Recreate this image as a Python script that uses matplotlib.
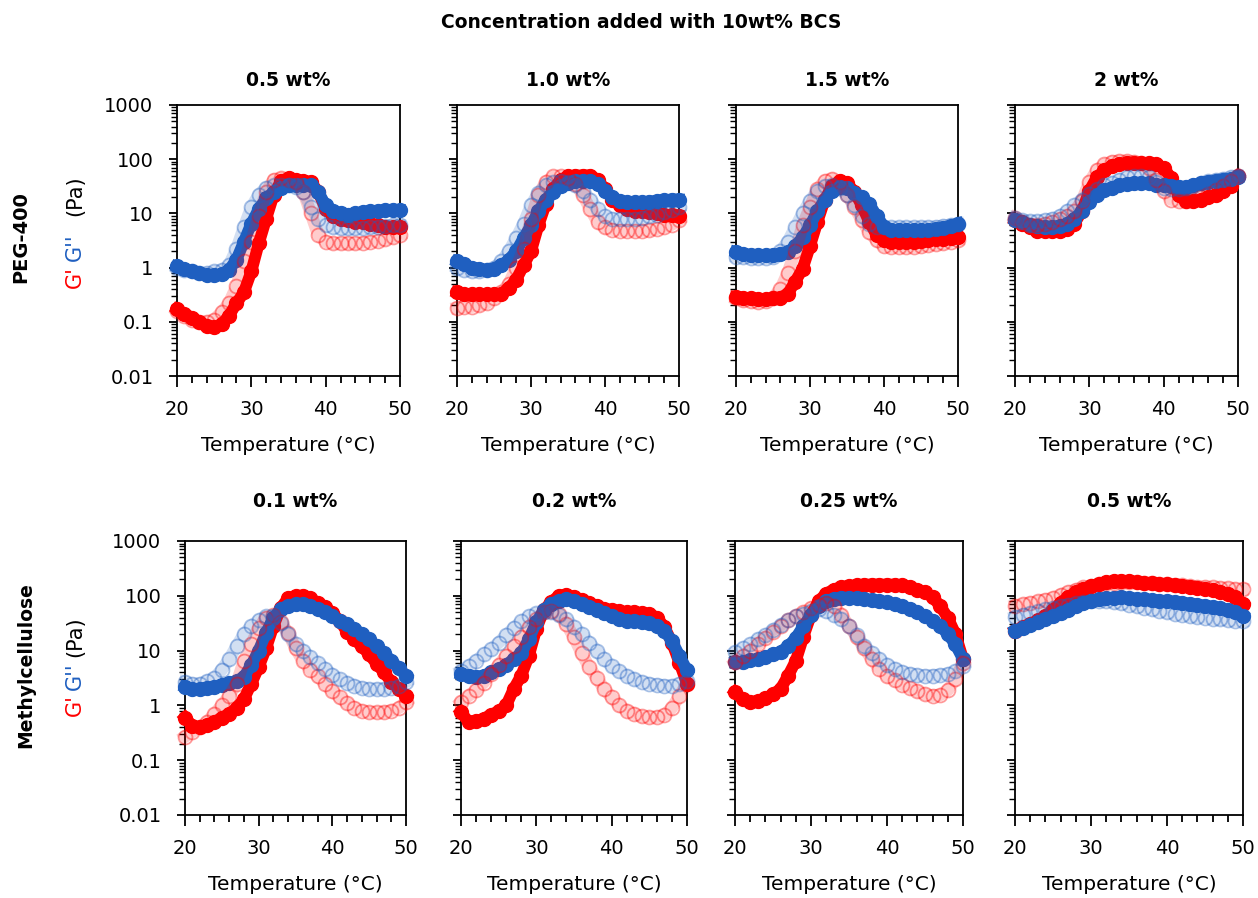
import matplotlib.pyplot as plt
from matplotlib.ticker import MultipleLocator, LogLocator, FuncFormatter, NullFormatter

plt.rcParams['xtick.labelsize'] = 14
plt.rcParams['ytick.labelsize'] = 14

# temperature sweep, 1 degC steps
temp = list(range(20, 51))

# PEG-400 0.5 wt%
peg05_g1_heat = [0.17, 0.14, 0.12, 0.10, 0.085, 0.08, 0.09, 0.13, 0.22, 0.35, 0.85, 2.8, 8, 22, 40, 45, 42, 40, 38, 25, 12, 9, 8, 7.5, 7, 7, 6.5, 6, 5.5, 5.5, 5.5]
peg05_g2_heat = [1.05, 0.95, 0.85, 0.78, 0.72, 0.72, 0.75, 0.9, 1.4, 3, 6.5, 12, 19, 25, 30, 33, 34, 34, 33, 25, 14, 11, 10, 9.5, 10, 10.5, 11, 11, 11.5, 11.5, 11.5]
peg05_g1_cool = [0.16, 0.13, 0.11, 0.10, 0.10, 0.11, 0.15, 0.22, 0.45, 1.3, 3, 9, 25, 42, 45, 42, 38, 25, 10, 4, 3, 2.8, 2.8, 2.8, 2.8, 2.9, 3, 3.1, 3.3, 3.6, 4]
peg05_g2_cool = [1.0, 0.9, 0.85, 0.8, 0.8, 0.85, 0.9, 1.1, 2.2, 5.5, 13, 22, 30, 33, 33, 33, 31, 25, 13, 8, 6, 5.5, 5.3, 5.3, 5.3, 5.4, 5.5, 5.6, 5.8, 6, 6]

# PEG-400 1.0 wt%
peg10_g1_heat = [0.35, 0.32, 0.32, 0.32, 0.32, 0.32, 0.33, 0.42, 0.6, 1.1, 2.0, 6, 15, 28, 42, 48, 50, 50, 50, 42, 28, 18, 14, 12, 11, 11, 10.5, 10, 9.5, 9.2, 9]
peg10_g2_heat = [1.3, 1.15, 1.0, 0.95, 0.9, 0.95, 1.1, 1.4, 2.0, 3.5, 6, 11, 18, 25, 32, 36, 40, 40, 39, 35, 26, 20, 17, 16, 16, 16, 16.5, 17, 17.5, 18, 18]
peg10_g1_cool = [0.18, 0.19, 0.19, 0.2, 0.22, 0.27, 0.35, 0.5, 1.0, 2.2, 8, 22, 38, 48, 48, 45, 35, 22, 12, 7, 5.5, 5, 4.8, 4.8, 4.8, 4.8, 4.9, 5.2, 5.6, 6.2, 7.5]
peg10_g2_cool = [1.0, 0.9, 0.85, 0.85, 0.9, 1.0, 1.3, 2.0, 3.5, 6.5, 14, 24, 33, 38, 40, 38, 33, 26, 18, 12, 9, 8, 8, 8, 8, 8.2, 8.8, 9.5, 10.5, 11.5, 13]

# PEG-400 1.5 wt%
peg15_g1_heat = [0.29, 0.28, 0.27, 0.26, 0.26, 0.27, 0.28, 0.33, 0.55, 0.95, 2.5, 7, 18, 32, 40, 36, 25, 14, 7, 4, 3.2, 3.0, 3.0, 3.0, 3.0, 3.1, 3.2, 3.3, 3.4, 3.5, 3.7]
peg15_g2_heat = [1.95, 1.8, 1.7, 1.7, 1.7, 1.7, 1.75, 1.9, 2.5, 3.6, 6, 11, 18, 26, 31, 29, 24, 20, 15, 9, 5.7, 5.0, 4.9, 4.9, 4.9, 4.9, 5.0, 5.1, 5.3, 5.8, 6.5]
peg15_g1_cool = [0.27, 0.25, 0.24, 0.23, 0.24, 0.28, 0.4, 0.8, 2.0, 6, 13, 28, 40, 44, 38, 22, 13, 7.5, 4.5, 3.2, 2.5, 2.4, 2.4, 2.4, 2.4, 2.5, 2.6, 2.7, 2.8, 3.0, 3.2]
peg15_g2_cool = [1.6, 1.55, 1.5, 1.5, 1.5, 1.55, 2.0, 3.0, 5.5, 10, 17, 26, 32, 33, 30, 22, 14, 9, 6.5, 5.7, 5.5, 5.5, 5.5, 5.5, 5.5, 5.5, 5.6, 5.7, 5.9, 6.2, 6.5]

# PEG-400 2 wt%
peg20_g1_heat = [7.5, 6.5, 5.5, 4.8, 4.7, 4.7, 4.8, 5.2, 6.5, 11, 26, 46, 62, 75, 80, 85, 85, 85, 85, 80, 70, 45, 22, 17, 17, 18, 20, 22, 26, 32, 48]
peg20_g2_heat = [7.7, 7, 6.2, 5.8, 5.7, 5.7, 5.8, 6.5, 8, 11, 16, 22, 27, 30, 33, 35, 36, 37, 36, 34, 33, 32, 31, 31, 33, 36, 38, 40, 42, 44, 46]
peg20_g1_cool = [8.3, 7, 6.2, 6.2, 6.5, 7, 8, 9, 11, 17, 38, 62, 80, 90, 93, 93, 90, 85, 70, 42, 26, 18, 17, 17, 18, 20, 23, 27, 32, 40, 49]
peg20_g2_cool = [8.3, 7.5, 7.2, 7.2, 7.5, 8, 9, 11, 14, 18, 23, 28, 33, 37, 42, 46, 48, 48, 46, 38, 30, 28, 28, 30, 32, 36, 39, 42, 44, 47, 49]

# Methylcellulose 0.1 wt%
mc01_g1_heat = [0.6, 0.42, 0.4, 0.43, 0.5, 0.6, 0.7, 0.9, 1.3, 2.5, 5, 11, 28, 60, 90, 100, 100, 90, 75, 62, 48, 35, 22, 16, 12, 8.5, 5.8, 4, 2.7, 2, 1.5]
mc01_g2_heat = [2.2, 2.0, 2.0, 2.1, 2.2, 2.4, 2.6, 2.8, 3.3, 5.5, 10, 21, 40, 58, 66, 70, 70, 65, 58, 50, 42, 35, 30, 25, 20, 16, 12, 9, 6.5, 4.8, 3.5]
mc01_g1_cool = [0.27, 0.33, 0.4, 0.5, 0.7, 1.0, 1.5, 2.5, 6.5, 13, 26, 40, 44, 33, 21, 11, 6.5, 4.5, 3.4, 2.5, 1.8, 1.4, 1.1, 0.9, 0.8, 0.75, 0.75, 0.75, 0.8, 0.9, 1.15]
mc01_g2_cool = [2.7, 2.5, 2.5, 2.8, 3.2, 4.5, 7, 12, 20, 28, 36, 42, 42, 32, 20, 13, 10, 7.5, 6, 4.7, 3.6, 3.0, 2.6, 2.3, 2.1, 2.0, 2.0, 2.0, 2.1, 2.3, 2.7]

# Methylcellulose 0.2 wt%
mc02_g1_heat = [0.75, 0.5, 0.52, 0.57, 0.68, 0.78, 1.0, 2.0, 3.5, 8, 25, 55, 78, 100, 105, 95, 85, 75, 65, 58, 55, 52, 50, 50, 48, 47, 40, 27, 14, 6, 2.5]
mc02_g2_heat = [3.7, 3.4, 3.3, 3.5, 4.0, 4.6, 5.5, 7, 9, 16, 33, 55, 72, 82, 87, 80, 72, 63, 56, 48, 42, 38, 35, 34, 33, 32, 28, 23, 15, 8, 4.4]
mc02_g1_cool = [1.15, 1.5, 1.9, 2.6, 3.8, 5.5, 8, 12, 18, 27, 38, 50, 52, 46, 30, 17.5, 9, 5, 3.2, 2.0, 1.4, 1.0, 0.8, 0.7, 0.63, 0.61, 0.61, 0.67, 0.9, 1.5, 2.5]
mc02_g2_cool = [4.3, 5.2, 6.5, 8.5, 10.5, 14, 19, 26, 34, 42, 48, 50, 50, 44, 37, 27, 20, 14, 10, 7, 5.2, 4.2, 3.5, 3.0, 2.7, 2.5, 2.4, 2.3, 2.3, 2.5, 2.8]

# Methylcellulose 0.25 wt%
mc025_g1_heat = [1.75, 1.3, 1.15, 1.2, 1.35, 1.6, 2.0, 3.5, 6.5, 18, 45, 80, 110, 130, 145, 150, 155, 160, 160, 160, 160, 160, 155, 145, 130, 115, 95, 65, 40, 20, 7]
mc025_g2_heat = [6.1, 6.3, 6.6, 7, 7.6, 8.5, 9.5, 12, 17, 28, 44, 65, 80, 88, 93, 92, 90, 87, 83, 80, 76, 71, 65, 58, 50, 43, 35, 28, 20, 13, 7]
mc025_g1_cool = [6.1, 8, 10, 13, 17, 22, 28, 36, 43, 50, 60, 68, 75, 65, 45, 28, 18, 11, 7, 4.7, 3.4, 2.9, 2.4, 2.1, 1.8, 1.6, 1.5, 1.55, 1.9, 3, 6]
mc025_g2_cool = [9.3, 11, 13, 16, 19, 24, 29, 36, 42, 47, 53, 57, 52, 45, 38, 28, 19, 12, 9, 7, 5.5, 4.7, 4.1, 3.8, 3.6, 3.5, 3.5, 3.6, 3.8, 4.2, 5.3]

# Methylcellulose 0.5 wt%
mc05_g1_heat = [23, 27, 31, 36, 43, 55, 75, 95, 115, 135, 150, 165, 175, 185, 190, 185, 178, 172, 168, 165, 162, 158, 152, 146, 140, 133, 125, 118, 108, 95, 72]
mc05_g2_heat = [23, 26, 29, 33, 37, 42, 48, 56, 65, 75, 82, 87, 90, 93, 94, 92, 88, 86, 84, 82, 80, 78, 75, 72, 69, 66, 63, 60, 56, 50, 43]
mc05_g1_cool = [66, 70, 74, 79, 85, 92, 105, 118, 130, 142, 152, 162, 168, 173, 175, 175, 175, 172, 168, 165, 162, 158, 155, 150, 147, 145, 142, 140, 137, 134, 132]
mc05_g2_cool = [41, 45, 48, 52, 57, 61, 65, 69, 73, 76, 79, 81, 80, 77, 73, 69, 65, 61, 57, 53, 50, 47, 45, 43, 41, 40, 38, 37, 36, 35, 35]

titles_peg = ['0.5 wt%', '1.0 wt%', '1.5 wt%', '2 wt%']
titles_mc = ['0.1 wt%', '0.2 wt%', '0.25 wt%', '0.5 wt%']

peg_sets = [
    (peg05_g1_heat, peg05_g2_heat, peg05_g1_cool, peg05_g2_cool),
    (peg10_g1_heat, peg10_g2_heat, peg10_g1_cool, peg10_g2_cool),
    (peg15_g1_heat, peg15_g2_heat, peg15_g1_cool, peg15_g2_cool),
    (peg20_g1_heat, peg20_g2_heat, peg20_g1_cool, peg20_g2_cool),
]
mc_sets = [
    (mc01_g1_heat, mc01_g2_heat, mc01_g1_cool, mc01_g2_cool),
    (mc02_g1_heat, mc02_g2_heat, mc02_g1_cool, mc02_g2_cool),
    (mc025_g1_heat, mc025_g2_heat, mc025_g1_cool, mc025_g2_cool),
    (mc05_g1_heat, mc05_g2_heat, mc05_g1_cool, mc05_g2_cool),
]

RED = '#FF0000'
BLUE = '#1F5FC0'
W, H = 1258, 898

fig = plt.figure(figsize=(W / 100, H / 100), dpi=100)

# axes boxes in pixels: left, top, right, bottom
boxes_top = [(177, 105, 400, 376), (457, 105, 679, 376), (736, 105, 958, 376), (1015, 105, 1238, 376)]
boxes_bot = [(185, 541, 406, 815), (461, 541, 687, 815), (735, 541, 963, 815), (1015, 541, 1243, 815)]


def yfmt(v, pos):
    return '%g' % v


def panel(box, data, title, first, title_gap):
    l, t, r, b = box
    ax = fig.add_axes([l / W, 1 - b / H, (r - l) / W, (b - t) / H])
    g1h, g2h, g1c, g2c = data
    # heating: solid markers
    ax.plot(temp, g1h, '-o', color=RED, lw=8.5, ms=10, clip_on=False, zorder=3)
    ax.plot(temp, g2h, '-o', color=BLUE, lw=8.5, ms=10, clip_on=False, zorder=3)
    # cooling: faded open markers
    for vals, c in [(g1c, RED), (g2c, BLUE)]:
        ax.plot(temp, vals, '-', color=c, lw=9, alpha=0.2, clip_on=False, zorder=4)
        ax.plot(temp, vals, 'o', mfc='none', mec=c, mew=1.3, ms=10, alpha=0.4,
                clip_on=False, zorder=4)

    ax.set_yscale('log')
    ax.set_ylim(0.01, 1000)
    ax.set_xlim(20, 50)
    ax.xaxis.set_major_locator(MultipleLocator(10))
    ax.xaxis.set_minor_locator(MultipleLocator(2))
    ax.yaxis.set_major_locator(LogLocator(base=10))
    ax.yaxis.set_minor_locator(LogLocator(base=10, subs=range(2, 10)))
    ax.yaxis.set_minor_formatter(NullFormatter())
    if first:
        ax.yaxis.set_major_formatter(FuncFormatter(yfmt))
    else:
        ax.yaxis.set_major_formatter(NullFormatter())
    ax.tick_params(axis='x', which='major', direction='out', length=8, width=1.3, pad=9)
    ax.tick_params(axis='x', which='minor', direction='out', length=5, width=1.3)
    ax.tick_params(axis='y', which='major', direction='out', length=6, width=1.3, pad=11)
    ax.tick_params(axis='y', which='minor', direction='out', length=4, width=1.0)
    for s in ax.spines.values():
        s.set_linewidth(1.3)

    cx = (l + r) / 2
    fig.text(cx / W, 1 - (t - title_gap) / H, title, ha='center', va='center',
             fontsize=13.5, fontweight='bold')
    fig.text(cx / W, 1 - (b + 69) / H, 'Temperature (\u00b0C)', ha='center', va='center',
             fontsize=14.5)
    return ax


for i in range(4):
    panel(boxes_top[i], peg_sets[i], titles_peg[i], i == 0, 25)
    panel(boxes_bot[i], mc_sets[i], titles_mc[i], i == 0, 39)

fig.text(641 / W, 1 - 23 / H, 'Concentration added with 10wt% BCS', ha='center', va='center',
         fontsize=13.5, fontweight='bold')

fig.text(21 / W, 1 - 237 / H, 'PEG-400', rotation=90, ha='center', va='center',
         fontsize=14, fontweight='bold')
fig.text(26 / W, 1 - 665 / H, 'Methylcellulose', rotation=90, ha='center', va='center',
         fontsize=13.5, fontweight='bold')

# coloured y label pieces: G' (red), G'' (blue), (Pa)
for ys in [(277, 247, 196), (705, 676, 637)]:
    fig.text(75 / W, 1 - ys[0] / H, "G'", rotation=90, ha='center', va='center',
             fontsize=15, color=RED)
    fig.text(75 / W, 1 - ys[1] / H, "G''", rotation=90, ha='center', va='center',
             fontsize=15, color=BLUE)
    fig.text(75 / W, 1 - ys[2] / H, "(Pa)", rotation=90, ha='center', va='center',
             fontsize=15)

fig.savefig('out.png', dpi=100)
